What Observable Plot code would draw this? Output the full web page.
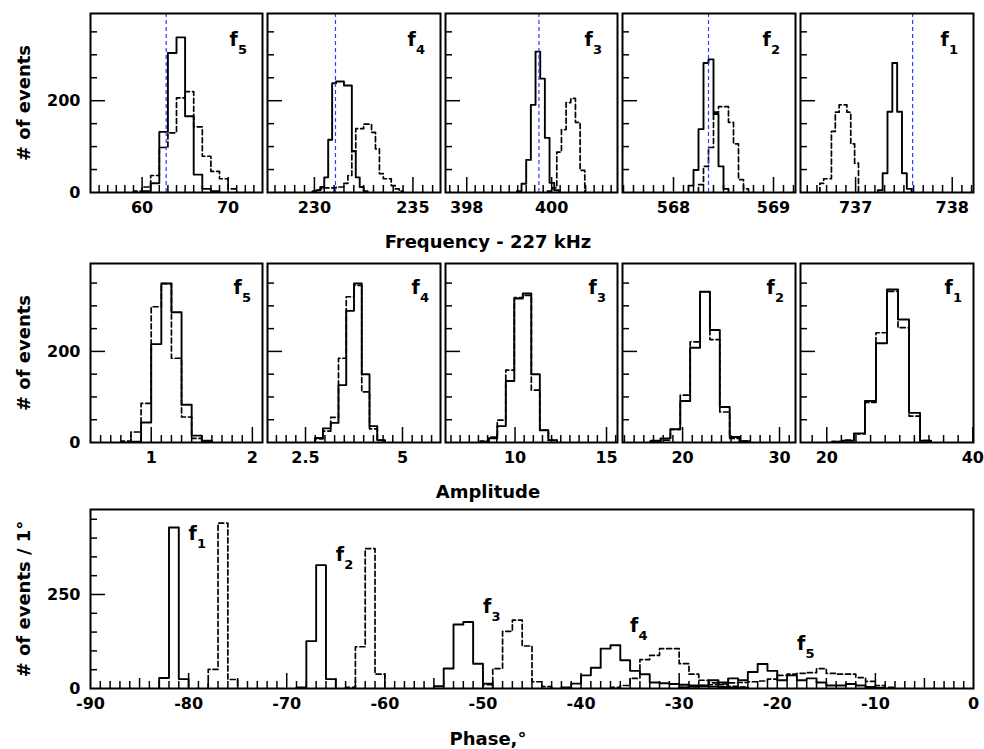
<!DOCTYPE html>
<html><head><meta charset="utf-8">
<script src="https://cdn.jsdelivr.net/npm/d3@7"></script>
<script src="https://cdn.jsdelivr.net/npm/@observablehq/plot@0.6"></script>
<style>
body{margin:0;background:#fff;}
#fig{position:relative;width:984px;height:749px;overflow:hidden;font-family:"DejaVu Sans",sans-serif;font-weight:bold;color:#000;background:#fff;}
.t{position:absolute;white-space:nowrap;font-size:18px;line-height:18px;}
</style></head><body><div id="fig"></div><script>
// ---------------- DATA ----------------
const tags = ["5", "4", "3", "2", "1"];             // column order: f5, f4, f3, f2, f1

// Frequency - 227 kHz (top row)
const freqSolidStart  = [60, 230.1, 399.18, 568.15, 737.23];
const freqSolidWidth  = [1, 0.2, 0.11, 0.05, 0.05];
const freqSolidF5 = [3, 20, 132, 304, 338, 166, 39, 8, 3];
const freqSolidF4 = [5, 12, 33, 115, 238, 242, 242, 233, 233, 90, 33, 12, 3];
const freqSolidF3 = [3, 19, 71, 191, 307, 248, 119, 21, 5];
const freqSolidF2 = [15, 49, 138, 282, 290, 171, 57, 8];
const freqSolidF1 = [5, 42, 176, 282, 176, 42, 8];
const freqDashedStart = [59, 229.9, 399.9, 568.25, 736.63];
const freqDashedWidth = [1, 0.2, 0.11, 0.05, 0.04];
const freqDashedF5 = [3, 12, 37, 98, 130, 206, 220, 143, 79, 46, 30, 8];
const freqDashedF4 = [3, 5, 8, 10, 10, 10, 12, 12, 20, 37, 90, 139, 139, 149, 149, 131, 95, 41, 30, 30, 15, 8, 3];
const freqDashedF3 = [3, 10, 88, 137, 196, 205, 153, 48];
const freqDashedF2 = [17, 57, 98, 175, 187, 187, 153, 106, 28, 8];
const freqDashedF1 = [20, 30, 30, 133, 175, 191, 191, 175, 106, 64];
const freqRef = [62.8, 231.07, 399.7, 568.35, 737.59];
const freqDomain = [[54, 74], [227.62, 236.4], [397.5, 401.55], [567.49, 569.22], [736.43, 738.22]];
const freqTickLabels = [[60, 70], [230, 235], [398, 400], [568, 569], [737, 738]];
const freqMinorStep = [1, 0.5, 0.2, 0.1, 0.1];

// Amplitude (middle row)
const ampStart = [0.8, 2.75, 8.1, 16.7, 20.7];
const ampWidth = [0.1, 0.2, 0.465, 1.02, 1.51];
const ampSolidF5 = [2, 44, 216, 349, 286, 83, 15, 4];
const ampSolidF4 = [10, 31, 43, 126, 289, 349, 150, 36, 5];
const ampSolidF3 = [2, 9, 36, 135, 316, 327, 150, 27, 5];
const ampSolidF2 = [4, 9, 29, 91, 208, 331, 247, 78, 12, 3];
const ampSolidF1 = [2, 4, 20, 91, 218, 336, 270, 65, 4];
const ampDashedStart = [0.7, 2.75, 8.1, 16.7, 20.7];
const ampDashedF5 = [3, 23, 86, 298, 349, 185, 56, 9, 2];
const ampDashedF4 = [8, 25, 55, 185, 320, 345, 111, 30, 5];
const ampDashedF3 = [3, 12, 49, 159, 318, 323, 115, 27, 5];
const ampDashedF2 = [3, 5, 29, 104, 221, 331, 226, 67, 9, 3];
const ampDashedF1 = [2, 5, 19, 88, 241, 332, 252, 58, 4];
const ampDomain = [[0.4, 2.1], [1.52, 5.98], [6.2, 15.6], [13.8, 31.65], [16.4, 40.1]];
const ampTickLabels = [[1, 2], [2.5, 5], [10, 15], [20, 30], [20, 40]];
const ampMinorStep = [0.1, 0.25, 0.5, 1, 2];

// Phase (bottom), 1 degree bins, order f1..f5
const phaseSolidStart = [-83, -69, -55, -42, -30];
const phaseSolidF1 = [28, 428, 25];
const phaseSolidF2 = [3, 126, 328, 25];
const phaseSolidF3 = [6, 53, 170, 177, 66, 13];
const phaseSolidF4 = [3, 13, 35, 55, 106, 115, 75, 47, 38, 16, 14, 12, 10, 8, 6, 5, 4, 3, 2];
const phaseSolidF5 = [3, 5, 8, 22, 16, 27, 22, 44, 65, 47, 22, 35, 22, 27, 16, 8, 8, 12, 8, 4, 2];
const phaseDashedStart = [-78, -64, -50, -37, -30];
const phaseDashedF1 = [51, 440, 24];
const phaseDashedF2 = [3, 111, 372, 38];
const phaseDashedF3 = [10, 53, 152, 182, 113, 18, 5];
const phaseDashedF4 = [3, 8, 27, 77, 88, 106, 106, 66, 38, 22, 15, 10, 6, 4];
const phaseDashedF5 = [3, 5, 8, 10, 12, 15, 16, 18, 20, 25, 35, 38, 40, 42, 53, 40, 38, 38, 29, 19, 8, 3];
const phaseTickLabels = [-90, -80, -70, -60, -50, -40, -30, -20, -10, 0];
const phaseTagNames = ["1", "2", "3", "4", "5"];
const phaseTagX = [-80, -65, -50, -35, -18];
const phaseTagY = [394, 339, 200, 150, 102];

const countTicksTop = [0, 200], countTicksMid = [0, 200], countTicksBot = [0, 250];

// ---------------- LAYOUT ----------------
const cols = [[90, 262], [267, 440], [445, 617], [622, 795], [800, 973]];
const rowTop = [13, 192], rowMid = [263, 442], rowBot = [509, 688];
const fig = document.getElementById("fig");

function stepTicks(dom, step, exclude) {
  const out = [];
  const k0 = Math.ceil(dom[0] / step - 1e-6), k1 = Math.floor(dom[1] / step + 1e-6);
  for (let k = k0; k <= k1; k++) {
    const v = +(k * step).toFixed(6);
    if (v <= dom[0] + 1e-9 || v >= dom[1] - 1e-9) continue;
    if (exclude.some(e => Math.abs(e - v) < step / 10)) continue;
    out.push(v);
  }
  return out;
}

function histLine(start, width, counts, dashed) {
  const pts = [{x: start, y: 0}];
  counts.forEach((c, i) => pts.push({x: start + i * width, y: c}));
  pts.push({x: start + counts.length * width, y: 0});
  const o = {x: "x", y: "y", curve: "step-after", stroke: "#000", strokeWidth: dashed ? 1.7 : 1.9, clip: true};
  if (dashed) o.strokeDasharray = "5,3";
  return Plot.line(pts, o);
}

function makePanel(o) {
  const mL = o.yLabels ? 90 : 4, mR = 4, mT = 4, mB = 34;
  const W = o.x1 - o.x0, H = o.y1 - o.y0;
  const marks = [];
  o.hists.forEach(h => marks.push(histLine(...h)));
  if (o.ref != null) marks.push(Plot.ruleX([o.ref], {x: d => d, stroke: "#2a3cff", strokeWidth: 1.2, strokeDasharray: "4,3"}));
  // y ticks (inside)
  marks.push(Plot.axisY({ticks: stepTicks(o.yDom, 50, o.yMajor), tickSize: -7, tickFormat: () => "", label: null, strokeWidth: 1.5}));
  marks.push(Plot.axisY({ticks: o.yMajor.filter(v => v > 0), tickSize: -15, tickFormat: () => "", label: null, strokeWidth: 1.5}));
  if (o.yLabels) marks.push(Plot.axisY({ticks: o.yMajor, tickSize: 0, tickPadding: 10, tickFormat: d => String(d), label: null}));
  // x ticks (inside)
  const mids = o.xMid ? stepTicks(o.xDom, o.xMid, o.xMajor) : [];
  marks.push(Plot.axisX({ticks: stepTicks(o.xDom, o.xStep, o.xMajor.concat(mids)), tickSize: -7, tickFormat: () => "", label: null, strokeWidth: 1.5}));
  if (mids.length) marks.push(Plot.axisX({ticks: mids, tickSize: -10, tickFormat: () => "", label: null, strokeWidth: 1.5}));
  marks.push(Plot.axisX({ticks: o.xMajor.filter(v => v > o.xDom[0] && v < o.xDom[1]), tickSize: -15, tickFormat: () => "", label: null, strokeWidth: 1.5}));
  marks.push(Plot.axisX({ticks: o.xMajor, tickSize: 0, tickPadding: 9, tickFormat: d => String(d), label: null}));
  marks.push(Plot.frame({stroke: "#000", strokeWidth: 2}));
  if (o.tag) {
    marks.push(Plot.text(["f"], {text: d => d, frameAnchor: "top-right", dx: o.tagDx, dy: o.tagDy, textAnchor: "start", lineAnchor: "bottom", fontSize: 19}));
    marks.push(Plot.text([o.tag], {text: d => d, frameAnchor: "top-right", dx: o.tagDx + 8.5, dy: o.tagDy + 8, textAnchor: "start", lineAnchor: "bottom", fontSize: 13}));
  }
  if (o.extra) o.extra.forEach(m => marks.push(m));
  const svg = Plot.plot({
    width: W + mL + mR, height: H + mT + mB,
    marginLeft: mL, marginRight: mR, marginTop: mT, marginBottom: mB,
    x: {domain: o.xDom}, y: {domain: o.yDom},
    style: "position:absolute;overflow:visible;background:transparent;font-family:'DejaVu Sans',sans-serif;font-size:16px;font-weight:bold;color:#000;max-width:none;",
    marks
  });
  svg.style.left = (o.x0 - mL) + "px";
  svg.style.top = (o.y0 - mT) + "px";
  fig.appendChild(svg);
}

const freqSolid = [freqSolidF5, freqSolidF4, freqSolidF3, freqSolidF2, freqSolidF1];
const freqDashed = [freqDashedF5, freqDashedF4, freqDashedF3, freqDashedF2, freqDashedF1];
const ampSolid = [ampSolidF5, ampSolidF4, ampSolidF3, ampSolidF2, ampSolidF1];
const ampDashed = [ampDashedF5, ampDashedF4, ampDashedF3, ampDashedF2, ampDashedF1];

for (let i = 0; i < 5; i++) {
  makePanel({
    x0: cols[i][0], x1: cols[i][1], y0: rowTop[0], y1: rowTop[1],
    xDom: freqDomain[i], yDom: [0, 390], xMajor: freqTickLabels[i], xStep: freqMinorStep[i],
    yMajor: countTicksTop, yLabels: i === 0, ref: freqRef[i], tag: tags[i], tagDx: -33, tagDy: 32,
    hists: [[freqDashedStart[i], freqDashedWidth[i], freqDashed[i], true], [freqSolidStart[i], freqSolidWidth[i], freqSolid[i], false]]
  });
  makePanel({
    x0: cols[i][0], x1: cols[i][1], y0: rowMid[0], y1: rowMid[1],
    xDom: ampDomain[i], yDom: [0, 393], xMajor: ampTickLabels[i], xStep: ampMinorStep[i],
    yMajor: countTicksMid, yLabels: i === 0, tag: tags[i], tagDx: -29, tagDy: 30,
    hists: [[ampDashedStart[i], ampWidth[i], ampDashed[i], true], [ampStart[i], ampWidth[i], ampSolid[i], false]]
  });
}

const phaseSolid = [phaseSolidF1, phaseSolidF2, phaseSolidF3, phaseSolidF4, phaseSolidF5];
const phaseDashed = [phaseDashedF1, phaseDashedF2, phaseDashedF3, phaseDashedF4, phaseDashedF5];
const phaseHists = [];
for (let i = 0; i < 5; i++) {
  phaseHists.push([phaseDashedStart[i], 1, phaseDashed[i], true]);
  phaseHists.push([phaseSolidStart[i], 1, phaseSolid[i], false]);
}
const phaseTags = phaseTagNames.map((s, i) => ({s, x: phaseTagX[i], y: phaseTagY[i]}));
makePanel({
  x0: 90, x1: 973, y0: rowBot[0], y1: rowBot[1],
  xDom: [-90, 0], yDom: [0, 476], xMajor: phaseTickLabels, xStep: 1, xMid: 5,
  yMajor: countTicksBot, yLabels: true, hists: phaseHists,
  extra: [
    Plot.text(phaseTags, {x: "x", y: "y", text: () => "f", textAnchor: "start", lineAnchor: "bottom", fontSize: 19}),
    Plot.text(phaseTags, {x: "x", y: "y", text: "s", dx: 8.5, dy: 8, textAnchor: "start", lineAnchor: "bottom", fontSize: 13})
  ]
});

// ---------------- TITLES ----------------
function addText(html, left, top, extra) {
  const d = document.createElement("div");
  d.className = "t";
  d.innerHTML = html;
  d.style.left = left + "px";
  d.style.top = top + "px";
  d.style.transform = extra || "translateX(-50%)";
  fig.appendChild(d);
}
addText("Frequency - 227 kHz", 488, 233);
addText("Amplitude", 488, 483);
addText("Phase,°", 488, 730);
addText("# of events", 24, 102.5, "translate(-50%,-50%) rotate(-90deg)");
addText("# of events", 24, 352.8, "translate(-50%,-50%) rotate(-90deg)");
addText("# of events / 1°", 24, 598.5, "translate(-50%,-50%) rotate(-90deg)");
</script></body></html>
